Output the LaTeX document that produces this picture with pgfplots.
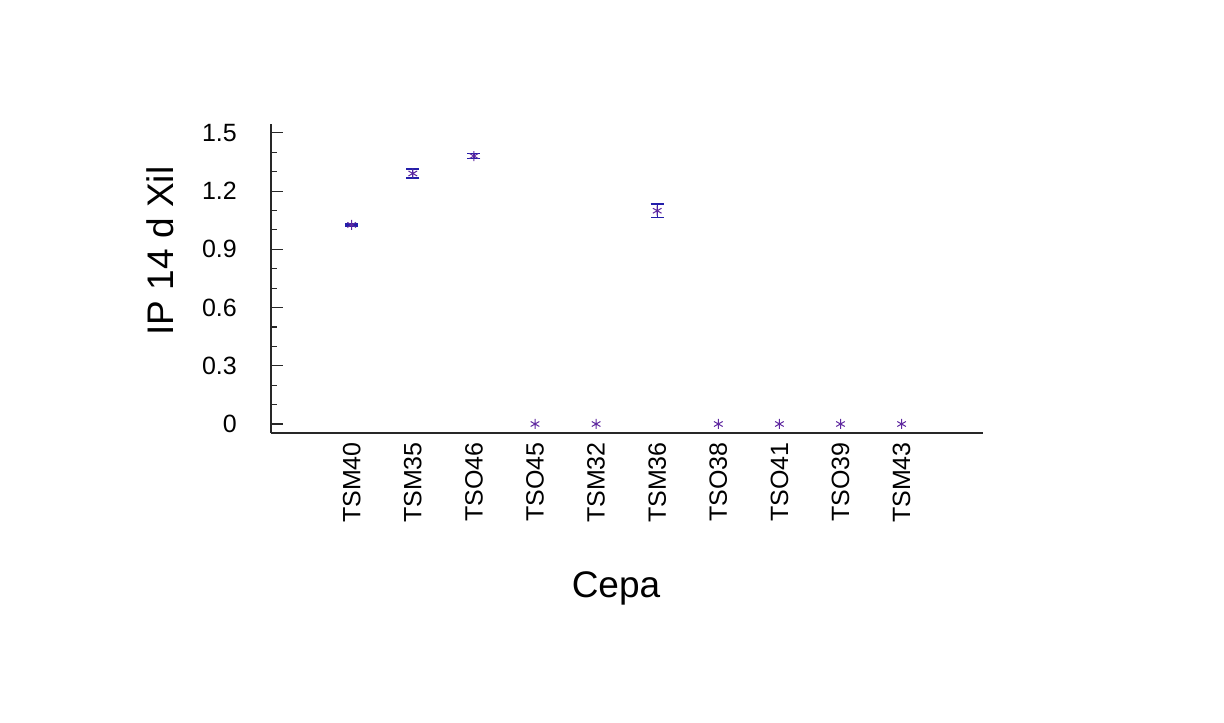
\documentclass[border=0pt]{standalone}
\usepackage{fontspec}
\setmainfont{Liberation Sans}
\usepackage{pgfplots}
\pgfplotsset{compat=1.18}
\definecolor{errc}{RGB}{35,30,170}
\definecolor{markc}{RGB}{95,40,160}
\definecolor{axc}{RGB}{40,40,40}
\begin{document}
\begin{tikzpicture}
\path[use as bounding box] (-271pt,-290pt) rectangle (953pt,433pt);
\begin{axis}[
  at={(0,0)}, anchor=south west,
  scale only axis,
  width=712pt, height=309pt,
  xmin=-1.321, xmax=10.332,
  ymin=-0.0464, ymax=1.546,
  axis x line*=bottom, axis y line*=left,
  axis line style={axc, line width=1.1pt, -},
  xtick={0,...,9},
  xticklabels={TSM40,TSM35,TSO46,TSO45,TSM32,TSM36,TSO38,TSO41,TSO39,TSM43},
  xticklabel style={rotate=90, anchor=east, inner sep=0pt, font=\fontsize{25}{30}\selectfont},
  xticklabel shift=9pt,
  ytick={0,0.3,0.6,0.9,1.2,1.5},
  yticklabels={0,0.3,0.6,0.9,1.2,1.5},
  minor y tick num=2,
  tick align=inside,
  major tick length=12pt, minor tick length=6pt,
  tick style={axc, line width=1.1pt},
  xtick style={draw=none},
  yticklabel style={anchor=east, inner sep=0pt, font=\fontsize{25}{30}\selectfont},
  yticklabel shift=34pt,
  /pgf/number format/assume math mode=true,
  clip=false,
]
\addplot+[only marks, mark=asterisk, mark size=5pt, mark options={markc, line width=1pt},
  error bars/.cd, y dir=both, y explicit,
  error bar style={errc, line width=1.3pt},
  error mark options={errc, line width=1.3pt, mark size=6.5pt, rotate=90}]
coordinates {
  (0,1.026) +- (0,0.005)
  (1,1.291) +- (0,0.023)
  (2,1.381) +- (0,0.012)
  (5,1.099) +- (0,0.035)
};
\addplot+[only marks, mark=asterisk, mark size=5pt, mark options={markc, line width=1pt}]
coordinates {
  (3,0) (4,0) (6,0) (7,0) (8,0) (9,0)
};
\end{axis}
\node[rotate=90, anchor=base, font=\fontsize{37}{44}\selectfont] at (-97pt,182pt) {IP 14 d Xil};
\node[anchor=base, font=\fontsize{37}{44}\selectfont] at (345pt,-164pt) {Cepa};
\end{tikzpicture}
\end{document}
